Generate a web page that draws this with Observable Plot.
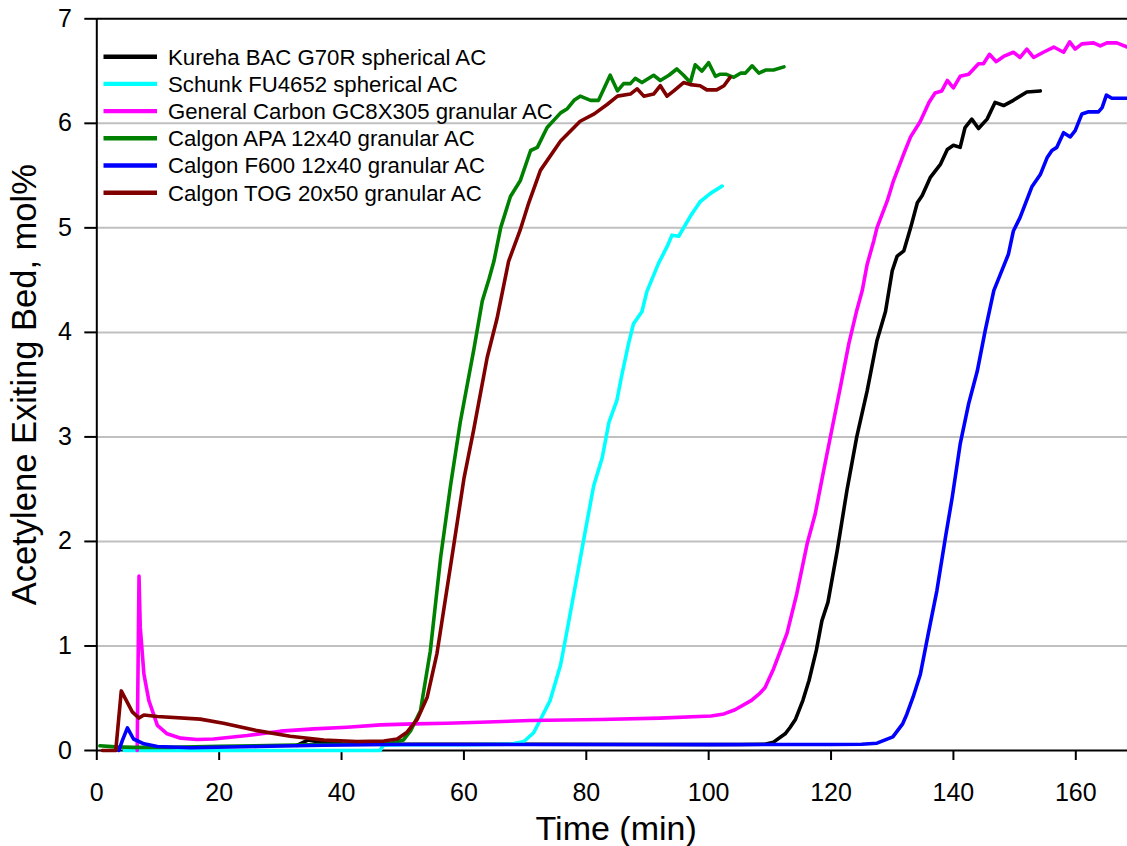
<!DOCTYPE html>
<html><head><meta charset="utf-8">
<script src="https://cdn.jsdelivr.net/npm/d3@7"></script>
<script src="https://cdn.jsdelivr.net/npm/@observablehq/plot@0.6"></script>
<style>body{margin:0;background:#fff;} svg{display:block}</style>
</head><body><div id="chart"></div>
<script>
const seriesNames = [
  "Kureha BAC G70R spherical AC",
  "Schunk FU4652 spherical AC",
  "General Carbon GC8X305 granular AC",
  "Calgon APA 12x40 granular AC",
  "Calgon F600 12x40 granular AC",
  "Calgon TOG 20x50 granular AC"
];
const seriesColors = ["#000000", "#00ffff", "#ff00ff", "#008000", "#0000ff", "#800000"];
const xTicks = [0, 20, 40, 60, 80, 100, 120, 140, 160];
const yTicks = [0, 1, 2, 3, 4, 5, 6, 7];
const xTitle = "Time (min)";
const yTitle = "Acetylene Exiting Bed, mol%";

const kureha = [[32.7,0.05],[34.5,0.1],[37,0.075],[40,0.065],[50,0.06],[70,0.06],[90,0.058],[105,0.057],[109.2,0.06],[110.6,0.08],[112.5,0.16],[113.3,0.22],[114.2,0.3],[115.4,0.48],[116.4,0.67],[117.6,0.96],[118.5,1.24],[119.5,1.42],[121,1.91],[122.6,2.49],[124.2,3.0],[125.9,3.44],[127.5,3.92],[128.9,4.2],[130,4.59],[130.8,4.73],[131.9,4.78],[133,5.0],[134.1,5.24],[134.9,5.31],[136.2,5.48],[137.9,5.61],[139,5.75],[140,5.79],[141.1,5.77],[141.9,5.96],[143,6.04],[144.1,5.95],[145.5,6.04],[146.8,6.2],[148.2,6.17],[149.8,6.22],[152,6.3],[154.2,6.31]];
const schunk = [[4.5,0],[15,0],[30,0],[46.3,0],[46.8,0.05],[50,0.055],[60,0.055],[67.6,0.06],[69.8,0.086],[71.4,0.17],[72.8,0.33],[74.1,0.48],[75.8,0.82],[76.9,1.16],[78.5,1.67],[79.9,2.12],[81.2,2.53],[82.6,2.8],[83.7,3.14],[85,3.35],[85.8,3.59],[86.9,3.89],[87.7,4.08],[89.1,4.2],[89.9,4.39],[91.8,4.66],[93.2,4.82],[94,4.93],[95.1,4.92],[97,5.11],[98.6,5.25],[100.3,5.33],[102.2,5.4]];
const general = [[6.6,0],[6.9,1.67],[7.1,1.18],[7.7,0.73],[8.5,0.48],[9.9,0.24],[11.5,0.16],[13.7,0.118],[16.4,0.105],[19.1,0.11],[24.6,0.143],[30,0.185],[35.5,0.207],[40.9,0.223],[46.4,0.245],[51.8,0.255],[57.2,0.26],[62.7,0.27],[70.9,0.287],[82.3,0.296],[92,0.31],[100.4,0.33],[102.5,0.35],[104.3,0.39],[107,0.48],[108.4,0.55],[109.2,0.6],[110.6,0.78],[112.8,1.12],[114.4,1.5],[116.1,1.98],[117.4,2.26],[118.8,2.68],[120.2,3.09],[121.5,3.47],[122.9,3.89],[124.2,4.21],[125.1,4.4],[125.9,4.65],[127,4.88],[127.5,5.0],[129.2,5.26],[130.2,5.45],[131.9,5.71],[133,5.87],[134.6,6.02],[136,6.2],[137,6.29],[138.1,6.31],[139,6.41],[140,6.34],[141.1,6.45],[142.5,6.47],[144.1,6.57],[144.9,6.57],[145.9,6.66],[147,6.59],[148.2,6.64],[149.8,6.68],[150.9,6.63],[152,6.71],[153.1,6.63],[154.7,6.68],[156.4,6.73],[158,6.68],[159,6.78],[159.9,6.71],[161,6.76],[162.9,6.77],[164,6.74],[165.1,6.77],[166.7,6.77],[168.4,6.73]];
const apa = [[0.5,0.045],[3,0.035],[6,0.03],[12,0.03],[20,0.04],[30,0.05],[40,0.06],[48,0.07],[50.1,0.1],[51.3,0.19],[52.9,0.38],[54.5,0.95],[56.2,1.85],[57.8,2.53],[59.4,3.14],[61.6,3.83],[63,4.3],[64.1,4.51],[64.9,4.68],[66,5.0],[67.6,5.3],[69.2,5.45],[70.9,5.74],[72,5.77],[73.6,5.96],[75.8,6.1],[76.9,6.14],[78,6.22],[79,6.26],[80.7,6.22],[82,6.22],[83.9,6.46],[85.1,6.31],[86.1,6.38],[87.2,6.38],[88,6.43],[89.1,6.39],[91,6.46],[92.1,6.41],[93.5,6.46],[94.8,6.52],[95.9,6.46],[97,6.39],[97.8,6.56],[98.9,6.5],[100,6.58],[101.1,6.45],[101.9,6.47],[102.8,6.47],[104.1,6.44],[105.2,6.48],[106,6.48],[107.1,6.55],[108.2,6.48],[109.3,6.51],[110.6,6.51],[112.3,6.54]];
const f600 = [[3.6,0],[4.2,0.1],[5.0,0.217],[6.0,0.11],[7.7,0.064],[9.9,0.038],[15.3,0.026],[26.2,0.038],[37,0.05],[47.9,0.057],[58.8,0.057],[70,0.058],[80,0.057],[90,0.058],[100,0.056],[110,0.057],[120,0.058],[125,0.06],[127.5,0.07],[130.1,0.13],[131.7,0.255],[132.4,0.35],[133.4,0.51],[134.6,0.73],[135.9,1.12],[137.3,1.53],[138.7,2.04],[139.8,2.42],[141.1,2.93],[142.5,3.32],[143.9,3.63],[145.2,4.02],[146.6,4.4],[147.7,4.56],[149,4.75],[149.8,4.97],[150.9,5.1],[152.8,5.39],[154.2,5.51],[155.3,5.67],[156.1,5.74],[156.9,5.77],[158,5.91],[159.1,5.87],[159.9,5.93],[161,6.09],[162.1,6.11],[163.7,6.11],[164.3,6.15],[165,6.27],[165.9,6.24],[168.4,6.24]];
const tog = [[0.9,0],[3.1,0],[4.0,0.57],[5.8,0.37],[6.9,0.31],[7.7,0.34],[9.9,0.325],[16.9,0.30],[20.7,0.26],[26.2,0.19],[31.6,0.137],[37.1,0.10],[42.5,0.086],[46.9,0.09],[49.1,0.11],[50.7,0.175],[52.4,0.30],[54.0,0.51],[55.6,0.93],[58.3,1.95],[60.0,2.6],[61.6,3.07],[63.8,3.76],[65.4,4.13],[67.3,4.68],[69.2,4.98],[70.6,5.24],[72.5,5.55],[75.8,5.83],[79.0,6.02],[81.3,6.09],[83.4,6.18],[85.1,6.26],[87.2,6.28],[88.3,6.33],[89.4,6.26],[91,6.28],[92.1,6.36],[93.2,6.26],[94.3,6.31],[95.9,6.39],[97,6.37],[98.6,6.36],[99.7,6.32],[101.3,6.32],[102.5,6.36],[103.5,6.44]];

const allSeries = [kureha, schunk, general, apa, f600, tog];
const data = [];
allSeries.forEach((arr, i) => arr.forEach(([t, v]) => data.push({series: seriesNames[i], t, v})));

const font = "'Liberation Sans', Arial, sans-serif";
const plot = Plot.plot({
  width: 1127, height: 846,
  marginLeft: 96.3, marginRight: 0, marginTop: 18.3, marginBottom: 96,
  style: {fontFamily: font, background: "#fff", color: "#000"},
  x: {domain: [0, 168.45]},
  y: {domain: [0, 7]},
  color: {domain: seriesNames, range: seriesColors},
  marks: [
    Plot.gridY(yTicks.filter(d => d > 0 && d < 7), {stroke: "#c0c0c0", strokeOpacity: 1, strokeWidth: 2}),
    Plot.ruleY([7], {stroke: "#000", strokeWidth: 2}),
    Plot.ruleY([0], {stroke: "#000", strokeWidth: 2}),
    Plot.ruleX([0], {stroke: "#000", strokeWidth: 2}),
    Plot.axisX(xTicks, {tickSize: 10, tickPadding: 23, fontSize: 25, label: null, strokeWidth: 2, tickFormat: d => String(d)}),
    Plot.axisY(yTicks, {tickSize: 12, tickPadding: 13, fontSize: 25, label: null, strokeWidth: 2, tickFormat: d => String(d)}),
    Plot.text([xTitle], {frameAnchor: "bottom", lineAnchor: "bottom", textAnchor: "middle", dx: 4, dy: 89, fontSize: 34}),
    Plot.text([yTitle], {frameAnchor: "left", lineAnchor: "bottom", textAnchor: "middle", rotate: -90, dx: -61.3, fontSize: 34.5}),
    Plot.line(data, {x: "t", y: "v", z: "series", stroke: "series", strokeWidth: 3.6, strokeLinejoin: "round"})
  ]
});
document.getElementById("chart").appendChild(plot);

const leg = d3.select(plot).append("g").attr("font-family", font).attr("font-size", 22.2).attr("text-anchor", "start");
seriesNames.forEach((name, i) => {
  const y = 56.7 + i * 27.2;
  leg.append("line").attr("x1", 103.5).attr("x2", 157).attr("y1", y).attr("y2", y)
    .attr("stroke", seriesColors[i]).attr("stroke-width", 4.4);
  leg.append("text").attr("x", 168).attr("y", y).attr("dy", "0.36em").attr("fill", "#000")
    .attr("text-anchor", "start").text(name);
});
</script>
</body></html>
